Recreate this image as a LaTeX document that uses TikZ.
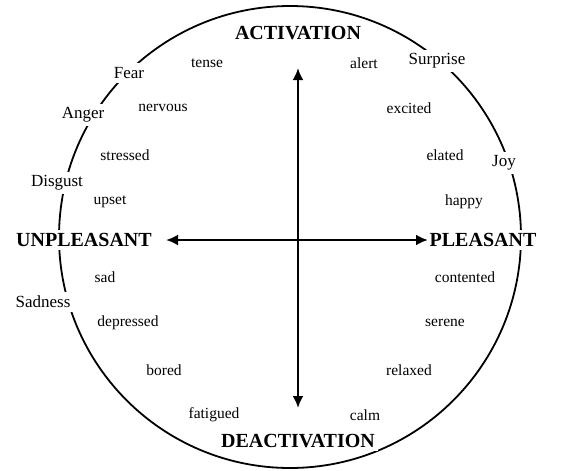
\documentclass[tikz,border=0pt]{standalone}
\usepackage{fontspec}
\setmainfont{Liberation Serif}
\usetikzlibrary{arrows.meta}

\tikzset{
  mood/.style={font=\fontsize{15.5}{17}\selectfont, inner sep=1pt},
  emotion/.style={font=\fontsize{17}{19}\selectfont, fill=white, inner sep=4pt},
  axislabel/.style={font=\fontsize{20}{22}\selectfont\bfseries, fill=white, inner sep=3pt},
  axis/.style={line width=2.7pt, -{Latex[length=12pt,width=11pt]}}
}

\begin{document}
\begin{tikzpicture}[x=1pt, y=-1pt]
    \useasboundingbox (0,0) rectangle (562,471);

    % Draw the circle
    \draw[line width=1.8pt] (290,237) circle (231);

    % Axis end points
    \coordinate (origin) at (298,240);
    \coordinate (up) at (298,68);
    \coordinate (down) at (298,408);
    \coordinate (left) at (166,240);
    \coordinate (right) at (428,240);

    % Draw the axes
    \draw[axis] (origin) -- (up);
    \draw[axis] (origin) -- (down);
    \draw[axis] (origin) -- (left);
    \draw[axis] (origin) -- (right);

    % Label the axes
    \node[axislabel] (act) at (298,33) {ACTIVATION};
    \node[axislabel] (deact) at (298,441) {DEACTIVATION};
    \node[axislabel] (unpl) at (84,240) {UNPLEASANT};
    \node[axislabel] (pl) at (483,240) {PLEASANT};

    % Label the basic emotions on the circle
    \node[emotion] (fear) at (129,73) {Fear};
    \node[emotion] (anger) at (83,115) {Anger};
    \node[emotion] (disgust) at (57,183) {Disgust};
    \node[emotion] (sadness) at (43,302) {Sadness};
    \node[emotion] (surprise) at (437,61) {Surprise};
    \node[emotion] (joy) at (504,163) {Joy};

    % Label the moods, left half
    \node[mood] (tense) at (207,63) {tense};
    \node[mood] (nervous) at (163,108) {nervous};
    \node[mood] (stressed) at (125,155) {stressed};
    \node[mood] (upset) at (110,202) {upset};
    \node[mood] (sad) at (105,277) {sad};
    \node[mood] (depressed) at (128,323) {depressed};
    \node[mood] (bored) at (164,370) {bored};
    \node[mood] (fatigued) at (214,415) {fatigued};

    % Label the moods, right half
    \node[mood] (alert) at (364,63) {alert};
    \node[mood] (excited) at (409,108) {excited};
    \node[mood] (elated) at (445,155) {elated};
    \node[mood] (happy) at (464,202) {happy};
    \node[mood] (contented) at (465,277) {contented};
    \node[mood] (serene) at (445,323) {serene};
    \node[mood] (relaxed) at (409,370) {relaxed};
    \node[mood] (calm) at (365,415) {calm};
\end{tikzpicture}
\end{document}
